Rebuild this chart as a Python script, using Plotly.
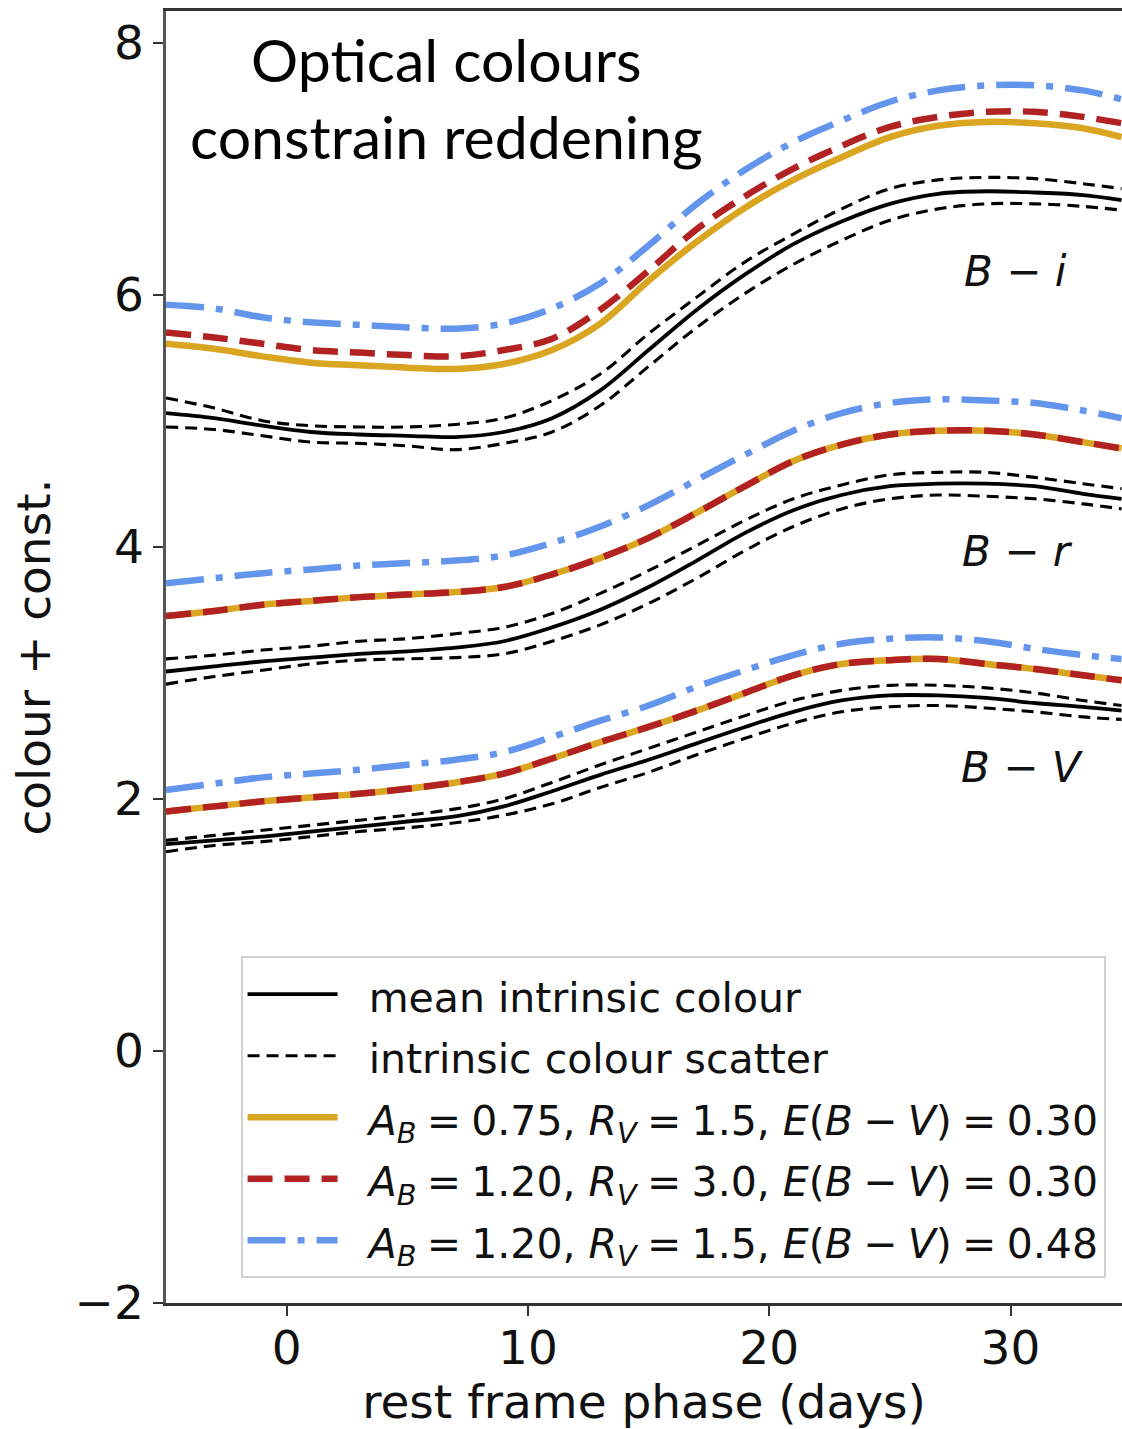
import plotly.graph_objects as go

# rest-frame phase grid (days)
phase = [-5, -3, -1, 1, 3, 5, 7, 9, 11, 13, 15, 17, 19, 21, 23, 25, 27, 29, 31, 33, 34.6]

# B - i
bi_mean = [5.06, 5.02, 4.96, 4.91, 4.89, 4.88, 4.87, 4.91, 5.02, 5.24, 5.56, 5.88, 6.16, 6.40, 6.58, 6.72, 6.80, 6.82, 6.81, 6.79, 6.75]
bi_upper = [5.18, 5.10, 5.00, 4.96, 4.95, 4.95, 4.97, 5.02, 5.16, 5.37, 5.69, 5.98, 6.26, 6.48, 6.68, 6.84, 6.91, 6.93, 6.92, 6.88, 6.84]
bi_lower = [4.95, 4.93, 4.88, 4.83, 4.82, 4.80, 4.77, 4.82, 4.91, 5.12, 5.43, 5.74, 6.01, 6.24, 6.43, 6.59, 6.68, 6.72, 6.72, 6.70, 6.67]
bi_yellow = [5.61, 5.57, 5.51, 5.46, 5.44, 5.42, 5.41, 5.45, 5.56, 5.77, 6.11, 6.42, 6.69, 6.91, 7.09, 7.25, 7.34, 7.37, 7.36, 7.32, 7.25]
bi_red = [5.70, 5.66, 5.61, 5.56, 5.54, 5.52, 5.51, 5.56, 5.65, 5.88, 6.19, 6.52, 6.78, 7.00, 7.18, 7.33, 7.41, 7.45, 7.45, 7.41, 7.36]
bi_blue = [5.92, 5.89, 5.82, 5.78, 5.76, 5.74, 5.73, 5.77, 5.89, 6.09, 6.39, 6.72, 6.99, 7.21, 7.38, 7.53, 7.62, 7.66, 7.66, 7.62, 7.55]

# B - r
br_mean = [3.01, 3.05, 3.09, 3.12, 3.15, 3.17, 3.20, 3.25, 3.36, 3.50, 3.68, 3.89, 4.11, 4.29, 4.41, 4.48, 4.50, 4.50, 4.48, 4.42, 4.38]
br_upper = [3.11, 3.14, 3.18, 3.21, 3.25, 3.27, 3.31, 3.36, 3.47, 3.63, 3.81, 4.01, 4.21, 4.38, 4.49, 4.57, 4.59, 4.59, 4.55, 4.50, 4.46]
br_lower = [2.91, 2.97, 3.02, 3.07, 3.10, 3.11, 3.12, 3.15, 3.25, 3.38, 3.55, 3.75, 3.97, 4.16, 4.30, 4.38, 4.41, 4.40, 4.38, 4.34, 4.30]
br_yellow = [3.45, 3.49, 3.54, 3.57, 3.60, 3.62, 3.64, 3.68, 3.78, 3.91, 4.07, 4.27, 4.48, 4.68, 4.81, 4.89, 4.92, 4.92, 4.89, 4.83, 4.78]
br_red = [3.45, 3.49, 3.54, 3.57, 3.60, 3.62, 3.64, 3.68, 3.78, 3.91, 4.07, 4.27, 4.48, 4.68, 4.81, 4.89, 4.92, 4.92, 4.89, 4.83, 4.78]
br_blue = [3.71, 3.75, 3.79, 3.82, 3.85, 3.87, 3.89, 3.93, 4.03, 4.16, 4.33, 4.53, 4.73, 4.92, 5.06, 5.14, 5.17, 5.16, 5.14, 5.08, 5.02]

# B - V
bv_mean = [1.64, 1.67, 1.70, 1.74, 1.78, 1.82, 1.86, 1.94, 2.06, 2.19, 2.31, 2.44, 2.57, 2.69, 2.78, 2.82, 2.82, 2.80, 2.76, 2.73, 2.70]
bv_upper = [1.67, 1.71, 1.75, 1.79, 1.83, 1.87, 1.92, 2.00, 2.13, 2.27, 2.40, 2.53, 2.66, 2.78, 2.86, 2.90, 2.90, 2.88, 2.84, 2.78, 2.74]
bv_lower = [1.58, 1.63, 1.66, 1.70, 1.74, 1.77, 1.81, 1.87, 1.96, 2.09, 2.21, 2.35, 2.48, 2.60, 2.69, 2.73, 2.74, 2.72, 2.69, 2.65, 2.63]
bv_yellow = [1.90, 1.94, 1.98, 2.01, 2.04, 2.08, 2.13, 2.20, 2.32, 2.45, 2.57, 2.70, 2.84, 2.98, 3.07, 3.10, 3.11, 3.07, 3.03, 2.98, 2.94]
bv_red = [1.90, 1.94, 1.98, 2.01, 2.04, 2.08, 2.13, 2.20, 2.32, 2.45, 2.57, 2.70, 2.84, 2.98, 3.07, 3.10, 3.11, 3.07, 3.03, 2.98, 2.94]
bv_blue = [2.07, 2.12, 2.17, 2.20, 2.23, 2.27, 2.31, 2.37, 2.49, 2.62, 2.74, 2.89, 3.02, 3.14, 3.23, 3.27, 3.28, 3.25, 3.19, 3.14, 3.11]

colour_labels = ["<i>B</i> − <i>i</i>", "<i>B</i> − <i>r</i>", "<i>B</i> − <i>V</i>"]
colour_label_pos = [(30.2, 6.18), (30.3, 3.96), (30.5, 2.25)]

SP = "\u2005"
legend_names = [
    "mean intrinsic colour",
    "intrinsic colour scatter",
    f"<i>A<sub>B</sub></i>{SP}={SP}0.75, <i>R<sub>V</sub></i>{SP}={SP}1.5, <i>E</i>(<i>B</i>{SP}−{SP}<i>V</i>){SP}={SP}0.30",
    f"<i>A<sub>B</sub></i>{SP}={SP}1.20, <i>R<sub>V</sub></i>{SP}={SP}3.0, <i>E</i>(<i>B</i>{SP}−{SP}<i>V</i>){SP}={SP}0.30",
    f"<i>A<sub>B</sub></i>{SP}={SP}1.20, <i>R<sub>V</sub></i>{SP}={SP}1.5, <i>E</i>(<i>B</i>{SP}−{SP}<i>V</i>){SP}={SP}0.48",
]

BLACK = "#000000"
YELLOW = "#DAA520"
RED = "#B22222"
BLUE = "#6495ED"


def leg(text):
    return '<span style="font-size:41px">&nbsp;&nbsp;' + text + '</span>'


groups = [
    (bi_mean, bi_upper, bi_lower, bi_yellow, bi_red, bi_blue),
    (br_mean, br_upper, br_lower, br_yellow, br_red, br_blue),
    (bv_mean, bv_upper, bv_lower, bv_yellow, bv_red, bv_blue),
]

fig = go.Figure()
for gi, (mean, up, lo, yel, red, blue) in enumerate(groups):
    first = gi == 0
    fig.add_trace(go.Scatter(x=phase, y=up, mode="lines", line=dict(color=BLACK, width=3.1, dash="12px,7px", shape="spline"),
                             name=leg(legend_names[1]), legendgroup="scatter", showlegend=False, legendrank=2))
    fig.add_trace(go.Scatter(x=phase, y=lo, mode="lines", line=dict(color=BLACK, width=3.1, dash="12px,7px", shape="spline"),
                             name=leg(legend_names[1]), legendgroup="scatter", showlegend=first, legendrank=2))
    fig.add_trace(go.Scatter(x=phase, y=mean, mode="lines", line=dict(color=BLACK, width=3.8, shape="spline"),
                             name=leg(legend_names[0]), legendgroup="mean", showlegend=first, legendrank=1))
    fig.add_trace(go.Scatter(x=phase, y=yel, mode="lines", line=dict(color=YELLOW, width=6.5, shape="spline"),
                             name=leg(legend_names[2]), legendgroup="y", showlegend=first, legendrank=3))
    fig.add_trace(go.Scatter(x=phase, y=red, mode="lines", line=dict(color=RED, width=6.5, dash="25px,12px", shape="spline"),
                             name=leg(legend_names[3]), legendgroup="r", showlegend=first, legendrank=4))
    fig.add_trace(go.Scatter(x=phase, y=blue, mode="lines", line=dict(color=BLUE, width=6.5, dash="38px,12px,7px,12px", shape="spline"),
                             name=leg(legend_names[4]), legendgroup="b", showlegend=first, legendrank=5))

for lab, (lx, ly) in zip(colour_labels, colour_label_pos):
    fig.add_annotation(x=lx, y=ly, text=lab, showarrow=False,
                       font=dict(family="DejaVu Sans", size=42, color="#111111"))

fig.add_annotation(x=6.62, y=7.56, text="Optical colours<br>constrain reddening", showarrow=False,
                   font=dict(family="Lato", size=59, color="#000000"), align="center")

axis_font = dict(family="DejaVu Sans", size=47, color="#111111")
fig.update_layout(
    width=1122, height=1429,
    margin=dict(l=166, r=0, t=11, b=126, autoexpand=False),
    plot_bgcolor="white", paper_bgcolor="white",
    font=dict(family="DejaVu Sans", size=42, color="#111111"),
    showlegend=True,
    legend=dict(x=0.078, y=0.019, xanchor="left", yanchor="bottom",
                bgcolor="rgba(255,255,255,0.85)", bordercolor="#d0d0d0", borderwidth=2,
                font=dict(family="DejaVu Sans", size=45, color="#111111"),
                itemwidth=90, tracegroupgap=0, traceorder="normal"),
    xaxis=dict(range=[-5, 34.62], tickvals=[0, 10, 20, 30], ticks="outside", ticklen=10, tickwidth=2,
               tickcolor="#333333", showline=True, linecolor="#333333", linewidth=2.5, mirror=True,
               showgrid=False, zeroline=False, tickfont=axis_font, ticklabelstandoff=-8, automargin=False,
               title=dict(text="rest frame phase (days)", font=axis_font, standoff=4)),
    yaxis=dict(range=[-2, 8.25], tickvals=[-2, 0, 2, 4, 6, 8], ticks="outside", ticklen=10, tickwidth=2,
               tickcolor="#333333", showline=True, linecolor="#555555", linewidth=2.5, automargin=False,
               showgrid=False, zeroline=False, tickfont=axis_font,
               title=dict(text="colour + const.", font=axis_font, standoff=10)),
)

fig.write_html("out.html", config={"displayModeBar": False},
               post_script="document.body.style.margin='0';document.body.style.overflow='hidden';")
